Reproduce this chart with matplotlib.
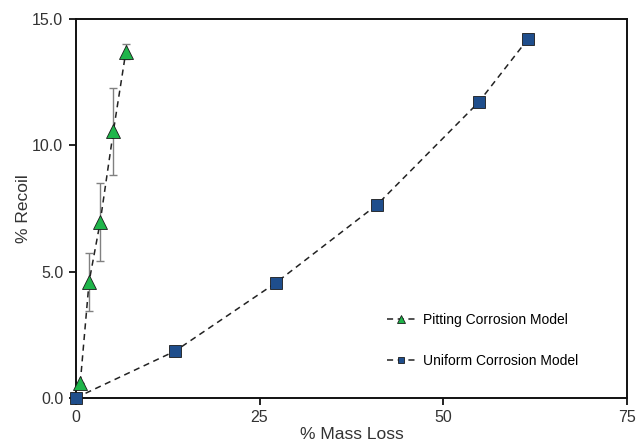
import matplotlib.pyplot as plt

plt.rcParams['font.family'] = ['Liberation Sans', 'DejaVu Sans']

# Pitting corrosion model
pit_mass = [0.6, 1.8, 3.3, 5.1, 6.8]
pit_recoil = [0.6, 4.6, 6.95, 10.55, 13.7]
pit_err = [0.0, 1.15, 1.55, 1.72, 0.3]

# Uniform corrosion model
uni_mass = [0.0, 13.5, 27.2, 41.0, 54.8, 61.5]
uni_recoil = [0.0, 1.85, 4.55, 7.65, 11.7, 14.2]

x_ticks = [0, 25, 50, 75]
y_ticks = [0.0, 5.0, 10.0, 15.0]

fig = plt.figure(figsize=(6.43, 4.44), dpi=100)
ax = fig.add_axes([0.118, 0.104, 0.857, 0.853])

ax.errorbar(pit_mass, pit_recoil, yerr=pit_err, fmt='none', ecolor='#808080',
            elinewidth=1.0, capsize=3, capthick=1.0, zorder=2)
ax.plot(pit_mass, pit_recoil, linestyle='--', dashes=(4, 3), color='#222222', lw=1.1,
        marker='^', markersize=10, markerfacecolor='#1fb54a', markeredgecolor='#1a1a1a',
        markeredgewidth=0.6, label='Pitting Corrosion Model', clip_on=False, zorder=3)
ax.plot(uni_mass, uni_recoil, linestyle='--', dashes=(4, 3), color='#222222', lw=1.1,
        marker='s', markersize=9, markerfacecolor='#1f4e8c', markeredgecolor='#1a1a1a',
        markeredgewidth=0.6, label='Uniform Corrosion Model', clip_on=False, zorder=3)

ax.set_xlim(0, 75)
ax.set_ylim(0, 15)
ax.set_xticks(x_ticks)
ax.set_yticks(y_ticks)
ax.set_yticklabels([f'{v:.1f}' for v in y_ticks])
ax.tick_params(direction='out', length=5, width=1.3, labelsize=11.5, colors='#333333', pad=4)
ax.tick_params(colors='#111111', which='both', labelcolor='#333333')
for s in ax.spines.values():
    s.set_linewidth(1.4)
    s.set_color('#111111')

ax.set_xlabel('% Mass Loss', fontsize=12.5, color='#333333', labelpad=1)
ax.set_ylabel('% Recoil', fontsize=12.5, color='#333333', labelpad=1)

ax.legend(loc='lower right', bbox_to_anchor=(0.935, 0.045), frameon=False, fontsize=10,
          markerscale=0.55, handlelength=2.0, handletextpad=0.6, labelspacing=2.0)

fig.savefig('out.png', dpi=100)
